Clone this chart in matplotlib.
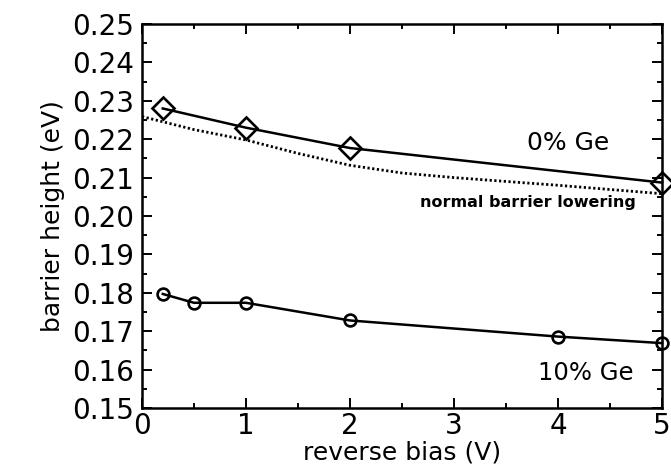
import numpy as np
import matplotlib.pyplot as plt
from matplotlib.ticker import MultipleLocator

# data
bias_0ge = [0.2, 1, 2, 5]
barrier_0ge = [0.228, 0.223, 0.2177, 0.2087]

bias_10ge = [0.2, 0.5, 1, 2, 4, 5]
barrier_10ge = [0.1797, 0.1774, 0.1774, 0.1728, 0.1686, 0.1669]

bias_normal = [0, 0.5, 1, 1.5, 2, 2.5, 3, 3.5, 4, 4.5, 5]
barrier_normal = [0.2259, 0.2225, 0.2198, 0.2163, 0.2132, 0.2112, 0.2100, 0.2090, 0.2080, 0.2069, 0.2058]

fig = plt.figure(figsize=(6.71, 4.74), dpi=100)
ax = fig.add_axes([0.2116, 0.1392, 0.775, 0.8102])

ax.plot(bias_0ge, barrier_0ge, color='black', lw=1.8, marker='D', ms=11,
        mfc='none', mec='black', mew=1.9, clip_on=False, zorder=3)
ax.plot(bias_10ge, barrier_10ge, color='black', lw=1.8, marker='o', ms=8.5,
        mfc='none', mec='black', mew=1.9, clip_on=False, zorder=3)
ax.plot(bias_normal, barrier_normal, color='black', lw=2.0, ls=(0, (0.8, 0.9)))

ax.text(4.1, 0.2190, '0% Ge', fontsize=18, ha='center', va='center')
ax.text(4.27, 0.1591, '10% Ge', fontsize=17.5, ha='center', va='center')
ax.text(3.71, 0.2036, 'normal barrier lowering', fontsize=11.5, fontweight='bold',
        ha='center', va='center')

ax.set_xlim(0, 5)
ax.set_ylim(0.15, 0.25)
ax.xaxis.set_major_locator(MultipleLocator(1))
ax.xaxis.set_minor_locator(MultipleLocator(0.5))
ax.yaxis.set_major_locator(MultipleLocator(0.01))
ax.yaxis.set_minor_locator(MultipleLocator(0.005))
ax.yaxis.set_major_formatter(plt.FormatStrFormatter('%.2f'))

ax.tick_params(which='both', direction='in', top=True, right=True,
               labelsize=20, width=1.4, pad=3)
ax.tick_params(axis='y', pad=6)
ax.tick_params(which='major', length=7)
ax.tick_params(which='minor', length=3.5)
for sp in ax.spines.values():
    sp.set_linewidth(1.8)

ax.set_xlabel('reverse bias (V)', fontsize=18, labelpad=0)
ax.set_ylabel('barrier height (eV)', fontsize=18, labelpad=5)

fig.savefig('out.png', dpi=100)
